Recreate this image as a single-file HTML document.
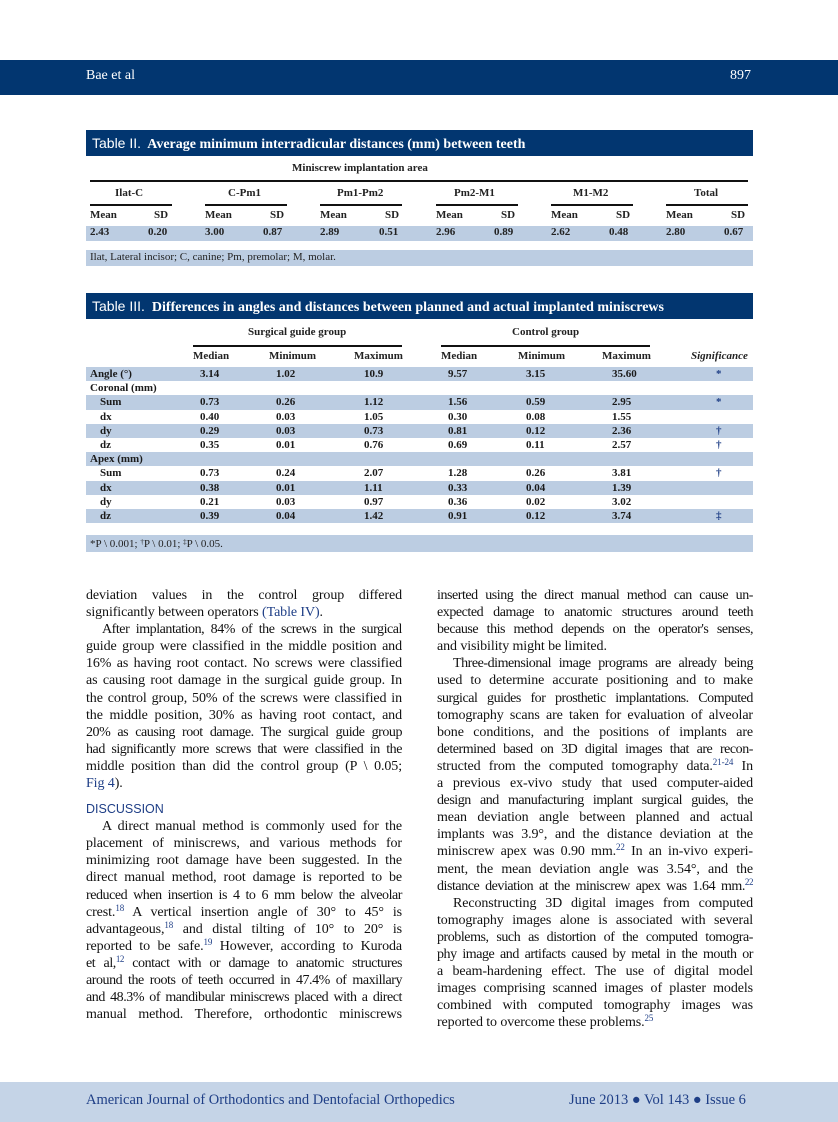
<!DOCTYPE html>
<html><head><meta charset="utf-8">
<style>
*{margin:0;padding:0;box-sizing:border-box}
body{width:838px;height:1122px;position:relative;background:#fff;font-family:"Liberation Serif",serif;color:#1a1a1a;overflow:hidden}
.abs{position:absolute}
.hdr{left:0;top:60px;width:838px;height:35px;background:#023670;color:#fff;font-size:14px}
.tbar{left:86px;width:667px;height:26px;background:#023670;color:#fff;font-size:14px;font-weight:bold;line-height:26px;padding-left:6px}
.tbar span{font-family:"Liberation Sans",sans-serif;font-weight:normal}
.t{font-size:11px;font-weight:bold;color:#222;white-space:nowrap}
.shade{background:#bccde2}
.rule{background:#111;height:2px}
.col{width:316px;font-size:14px;line-height:17.1px;letter-spacing:-0.1px;color:#111}
.j{text-align:justify;text-align-last:justify;white-space:nowrap;height:17.1px}
.l{text-align:left;white-space:nowrap;height:17.1px}
.d{letter-spacing:-0.45px}
.i{padding-left:16px}
sup{font-size:9px;line-height:0;vertical-align:5px}
.blue{color:#1e3e86}
</style></head><body>
<div class="abs hdr"><span class="abs" style="left:86px;top:8px">Bae et al</span><span class="abs" style="left:730px;top:8px">897</span></div>

<!-- Table II -->
<div class="abs tbar" style="top:130px"><span>Table II.</span>&nbsp; Average minimum interradicular distances (mm) between teeth</div>
<div class="abs t" style="left:292px;top:162px">Miniscrew implantation area</div>
<div class="abs rule" style="left:90px;top:180px;width:658px"></div>
<div class="abs t" style="left:115px;top:187px">Ilat-C</div>
<div class="abs t" style="left:228px;top:187px">C-Pm1</div>
<div class="abs t" style="left:337px;top:187px">Pm1-Pm2</div>
<div class="abs t" style="left:454px;top:187px">Pm2-M1</div>
<div class="abs t" style="left:573px;top:187px">M1-M2</div>
<div class="abs t" style="left:694px;top:187px">Total</div>
<div class="abs rule" style="left:90px;top:204px;width:82px"></div>
<div class="abs rule" style="left:205px;top:204px;width:82px"></div>
<div class="abs rule" style="left:320px;top:204px;width:82px"></div>
<div class="abs rule" style="left:436px;top:204px;width:82px"></div>
<div class="abs rule" style="left:551px;top:204px;width:82px"></div>
<div class="abs rule" style="left:666px;top:204px;width:82px"></div>
<div class="abs shade" style="left:86px;top:226px;width:667px;height:15px"></div>
<div class="abs shade" style="left:86px;top:250px;width:667px;height:16px"></div>
<div class="abs t" style="left:90px;top:209px;width:658px;height:30px">
<div style="position:relative">
<span class="abs" style="left:0">Mean</span><span class="abs" style="left:64px">SD</span>
<span class="abs" style="left:115px">Mean</span><span class="abs" style="left:180px">SD</span>
<span class="abs" style="left:230px">Mean</span><span class="abs" style="left:295px">SD</span>
<span class="abs" style="left:346px">Mean</span><span class="abs" style="left:411px">SD</span>
<span class="abs" style="left:461px">Mean</span><span class="abs" style="left:526px">SD</span>
<span class="abs" style="left:576px">Mean</span><span class="abs" style="left:641px">SD</span>
</div>
<div style="position:relative;top:17px">
<span class="abs" style="left:0">2.43</span><span class="abs" style="left:58px">0.20</span>
<span class="abs" style="left:115px">3.00</span><span class="abs" style="left:173px">0.87</span>
<span class="abs" style="left:230px">2.89</span><span class="abs" style="left:289px">0.51</span>
<span class="abs" style="left:346px">2.96</span><span class="abs" style="left:404px">0.89</span>
<span class="abs" style="left:461px">2.62</span><span class="abs" style="left:519px">0.48</span>
<span class="abs" style="left:576px">2.80</span><span class="abs" style="left:634px">0.67</span>
</div></div>
<div class="abs t" style="left:90px;top:251px;font-weight:normal">Ilat, Lateral incisor; C, canine; Pm, premolar; M, molar.</div>

<!-- Table III -->
<div class="abs tbar" style="top:293px"><span>Table III.</span>&nbsp; Differences in angles and distances between planned and actual implanted miniscrews</div>
<div class="abs t" style="left:248px;top:326px">Surgical guide group</div>
<div class="abs t" style="left:512px;top:326px">Control group</div>
<div class="abs rule" style="left:193px;top:345px;width:209px"></div>
<div class="abs rule" style="left:441px;top:345px;width:209px"></div>
<div class="abs t" style="left:86px;top:350px;width:667px;height:14px">
<span class="abs" style="left:107px">Median</span><span class="abs" style="left:183px">Minimum</span><span class="abs" style="left:268px">Maximum</span>
<span class="abs" style="left:355px">Median</span><span class="abs" style="left:432px">Minimum</span><span class="abs" style="left:516px">Maximum</span>
<span class="abs" style="left:605px;font-style:italic">Significance</span></div>
<div class="abs shade" style="left:86px;top:535px;width:667px;height:17px"></div>
<div class="abs t" style="left:90px;top:538px;font-weight:normal">*P \ 0.001; <sup style="font-size:7px;vertical-align:3px">†</sup>P \ 0.01; <sup style="font-size:7px;vertical-align:3px">‡</sup>P \ 0.05.</div>

<div class="abs" style="left:86px;top:367px;width:667px">
<style>
.r{position:relative;height:14.2px;font-size:11px;font-weight:bold;line-height:14.2px;white-space:nowrap}
.r span{position:absolute}
.c1{left:4px}.c2{left:114px}.c3{left:190px}.c4{left:278px}.c5{left:362px}.c6{left:440px}.c7{left:526px}.c8{left:630px;color:#1e3e86}
</style>
<div class="r shade"><span class="c1">Angle (°)</span><span class="c2">3.14</span><span class="c3">1.02</span><span class="c4">10.9</span><span class="c5">9.57</span><span class="c6">3.15</span><span class="c7">35.60</span><span class="c8">*</span></div>
<div class="r"><span class="c1">Coronal (mm)</span></div>
<div class="r shade"><span class="c1" style="left:14px">Sum</span><span class="c2">0.73</span><span class="c3">0.26</span><span class="c4">1.12</span><span class="c5">1.56</span><span class="c6">0.59</span><span class="c7">2.95</span><span class="c8">*</span></div>
<div class="r"><span class="c1" style="left:14px">dx</span><span class="c2">0.40</span><span class="c3">0.03</span><span class="c4">1.05</span><span class="c5">0.30</span><span class="c6">0.08</span><span class="c7">1.55</span></div>
<div class="r shade"><span class="c1" style="left:14px">dy</span><span class="c2">0.29</span><span class="c3">0.03</span><span class="c4">0.73</span><span class="c5">0.81</span><span class="c6">0.12</span><span class="c7">2.36</span><span class="c8">†</span></div>
<div class="r"><span class="c1" style="left:14px">dz</span><span class="c2">0.35</span><span class="c3">0.01</span><span class="c4">0.76</span><span class="c5">0.69</span><span class="c6">0.11</span><span class="c7">2.57</span><span class="c8">†</span></div>
<div class="r shade"><span class="c1">Apex (mm)</span></div>
<div class="r"><span class="c1" style="left:14px">Sum</span><span class="c2">0.73</span><span class="c3">0.24</span><span class="c4">2.07</span><span class="c5">1.28</span><span class="c6">0.26</span><span class="c7">3.81</span><span class="c8">†</span></div>
<div class="r shade"><span class="c1" style="left:14px">dx</span><span class="c2">0.38</span><span class="c3">0.01</span><span class="c4">1.11</span><span class="c5">0.33</span><span class="c6">0.04</span><span class="c7">1.39</span></div>
<div class="r"><span class="c1" style="left:14px">dy</span><span class="c2">0.21</span><span class="c3">0.03</span><span class="c4">0.97</span><span class="c5">0.36</span><span class="c6">0.02</span><span class="c7">3.02</span></div>
<div class="r shade"><span class="c1" style="left:14px">dz</span><span class="c2">0.39</span><span class="c3">0.04</span><span class="c4">1.42</span><span class="c5">0.91</span><span class="c6">0.12</span><span class="c7">3.74</span><span class="c8">‡</span></div>
</div>

<!-- Left column -->
<div class="abs col" style="left:86px;top:587px">
<div class="j">deviation values in the control group differed</div>
<div class="l">significantly between operators <span class="blue">(Table IV)</span>.</div>
<div class="j i d">After implantation, 84% of the screws in the surgical</div>
<div class="j">guide group were classified in the middle position and</div>
<div class="j">16% as having root contact. No screws were classified</div>
<div class="j">as causing root damage in the surgical guide group. In</div>
<div class="j">the control group, 50% of the screws were classified in</div>
<div class="j">the middle position, 30% as having root contact, and</div>
<div class="j d">20% as causing root damage. The surgical guide group</div>
<div class="j d">had significantly more screws that were classified in the</div>
<div class="j">middle position than did the control group (P \ 0.05;</div>
<div class="l"><span class="blue">Fig 4</span>).</div>
<div class="l" style="height:26px;padding-top:9px;font-family:'Liberation Sans',sans-serif;font-size:12.5px;color:#1e3e86;letter-spacing:0">DISCUSSION</div>
<div class="j i">A direct manual method is commonly used for the</div>
<div class="j">placement of miniscrews, and various methods for</div>
<div class="j">minimizing root damage have been suggested. In the</div>
<div class="j">direct manual method, root damage is reported to be</div>
<div class="j d">reduced when insertion is 4 to 6 mm below the alveolar</div>
<div class="j">crest.<sup class="blue">18</sup> A vertical insertion angle of 30° to 45° is</div>
<div class="j">advantageous,<sup class="blue">18</sup> and distal tilting of 10° to 20° is</div>
<div class="j">reported to be safe.<sup class="blue">19</sup> However, according to Kuroda</div>
<div class="j d">et al,<sup class="blue">12</sup> contact with or damage to anatomic structures</div>
<div class="j d">around the roots of teeth occurred in 47.4% of maxillary</div>
<div class="j d">and 48.3% of mandibular miniscrews placed with a direct</div>
<div class="j">manual method. Therefore, orthodontic miniscrews</div>
</div>

<!-- Right column -->
<div class="abs col" style="left:437px;top:587px">
<div class="j d">inserted using the direct manual method can cause un-</div>
<div class="j d">expected damage to anatomic structures around teeth</div>
<div class="j d">because this method depends on the operator's senses,</div>
<div class="l">and visibility might be limited.</div>
<div class="j i d">Three-dimensional image programs are already being</div>
<div class="j">used to determine accurate positioning and to make</div>
<div class="j d">surgical guides for prosthetic implantations. Computed</div>
<div class="j">tomography scans are taken for evaluation of alveolar</div>
<div class="j">bone conditions, and the positions of implants are</div>
<div class="j d">determined based on 3D digital images that are recon-</div>
<div class="j">structed from the computed tomography data.<sup class="blue">21-24</sup> In</div>
<div class="j">a previous ex-vivo study that used computer-aided</div>
<div class="j d">design and manufacturing implant surgical guides, the</div>
<div class="j">mean deviation angle between planned and actual</div>
<div class="j">implants was 3.9°, and the distance deviation at the</div>
<div class="j">miniscrew apex was 0.90 mm.<sup class="blue">22</sup> In an in-vivo experi-</div>
<div class="j">ment, the mean deviation angle was 3.54°, and the</div>
<div class="j d">distance deviation at the miniscrew apex was 1.64 mm.<sup class="blue">22</sup></div>
<div class="j i">Reconstructing 3D digital images from computed</div>
<div class="j">tomography images alone is associated with several</div>
<div class="j d">problems, such as distortion of the computed tomogra-</div>
<div class="j d">phy image and artifacts caused by metal in the mouth or</div>
<div class="j">a beam-hardening effect. The use of digital model</div>
<div class="j">images comprising scanned images of plaster models</div>
<div class="j">combined with computed tomography images was</div>
<div class="l">reported to overcome these problems.<sup class="blue">25</sup></div>
</div>

<!-- Footer -->
<div class="abs" style="left:0;top:1082px;width:838px;height:40px;background:#c5d4e7"></div>
<div class="abs" style="left:86px;top:1092px;font-size:14.5px;color:#1e3e86">American Journal of Orthodontics and Dentofacial Orthopedics</div>
<div class="abs" style="left:569px;top:1092px;font-size:14.5px;color:#1e3e86">June 2013 ● Vol 143 ● Issue 6</div>
</body></html>
